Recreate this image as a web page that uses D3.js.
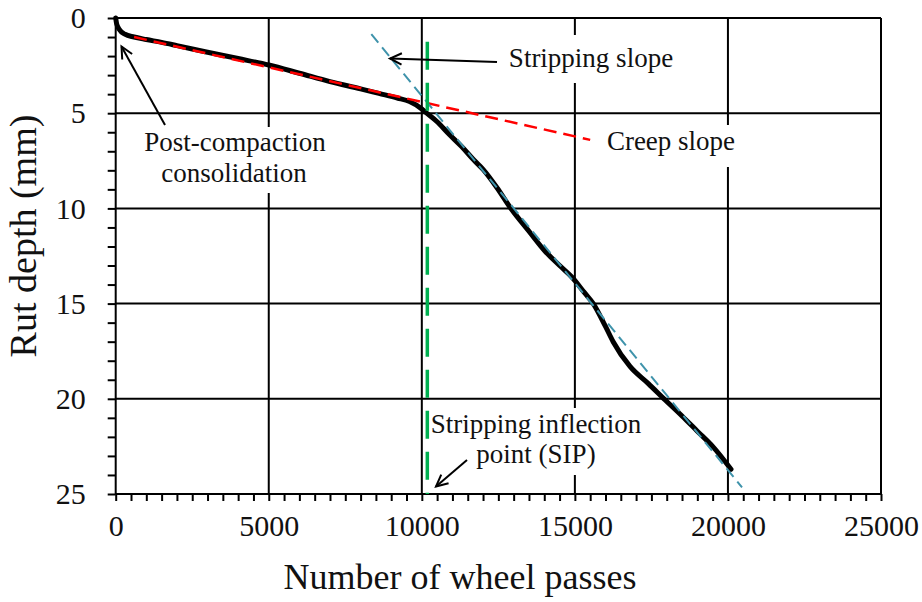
<!DOCTYPE html>
<html>
<head>
<meta charset="utf-8">
<script src="https://cdn.jsdelivr.net/npm/d3@7"></script>
<style>
  body { margin: 0; background: #fff; }
</style>
</head>
<body>
<script>
// rut depth curve
const passes = [0, 30, 120, 300, 600, 1000, 1500, 2000, 3000, 4000, 5000, 6000, 7000, 8000, 8600,
  9200, 9600, 10000, 10100, 10500, 10900, 11300, 11700, 12000, 12450, 12900, 13500, 14000, 14500,
  14900, 15300, 15600, 16000, 16250, 16800, 17400, 17950, 18500, 19000, 19500, 20100]
const rutDepth = [0, 0.3, 0.6, 0.85, 1.0, 1.13, 1.28, 1.45, 1.8, 2.13, 2.47, 2.9, 3.34, 3.72, 3.96,
  4.2, 4.39, 4.78, 4.92, 5.45, 6.12, 6.75, 7.46, 7.95, 8.9, 9.98, 11.2, 12.2, 13.0,
  13.6, 14.4, 15.0, 16.2, 17.0, 18.3, 19.2, 20.06, 20.9, 21.7, 22.5, 23.7]

const creepSlope = [[600, 1.0], [15500, 6.4]]
const strippingSlope = [[8350, 0.85], [20460, 24.65]]
const sipPasses = 10180
const sipLine = [[sipPasses, 1.25], [sipPasses, 25]]

const xTicks = [0, 5000, 10000, 15000, 20000, 25000]
const yTicks = [0, 5, 10, 15, 20, 25]

const W = 922, H = 602
const m = { l: 115.7, r: 922 - 881, t: 18, b: 602 - 494 }
const serif = '"Liberation Serif"'

const svg = d3.select('body').append('svg')
  .attr('width', W).attr('height', H)

const x = d3.scaleLinear().domain([0, 25000]).range([m.l, W - m.r])
const y = d3.scaleLinear().domain([0, 25]).range([m.t, H - m.b])

// grid
const grid = svg.append('g').attr('stroke', '#000').attr('stroke-width', 2)
grid.selectAll('.gx').data(xTicks).join('line')
  .attr('x1', d => x(d)).attr('x2', d => x(d))
  .attr('y1', y(0)).attr('y2', y(25))
grid.selectAll('.gy').data(yTicks).join('line')
  .attr('y1', d => y(d)).attr('y2', d => y(d))
  .attr('x1', x(0)).attr('x2', x(25000))

// minor ticks
svg.append('g').attr('transform', `translate(0,${y(25)})`)
  .call(d3.axisBottom(x).tickValues(d3.range(0, 25001, 500)).tickSize(7).tickFormat(''))
  .call(g => g.selectAll('line').attr('stroke', '#000').attr('stroke-width', 2))
  .call(g => g.select('.domain').remove())
svg.append('g').attr('transform', `translate(${x(0)},0)`)
  .call(d3.axisLeft(y).tickValues(d3.range(0, 26, 1)).tickSize(8).tickFormat(''))
  .call(g => g.selectAll('line').attr('stroke', '#000').attr('stroke-width', 2))
  .call(g => g.select('.domain').remove())

// tick labels
svg.append('g').attr('transform', `translate(0,${y(25)})`)
  .call(d3.axisBottom(x).tickValues(xTicks).tickSize(0).tickPadding(21).tickFormat(d3.format('d')))
  .call(g => g.select('.domain').remove())
  .call(g => g.selectAll('text').style('font-family', serif).style('font-size', '30px').attr('fill', '#111'))
svg.append('g').attr('transform', `translate(${x(0)},0)`)
  .call(d3.axisLeft(y).tickValues(yTicks).tickSize(0).tickPadding(30))
  .call(g => g.select('.domain').remove())
  .call(g => g.selectAll('text').style('font-family', serif).style('font-size', '30px').attr('fill', '#111'))

// white boxes behind annotations (they cut the grid)
const boxes = [[145, 127, 180, 66], [505, 35, 172, 48], [603, 125, 137, 42], [429, 408, 216, 67]]
svg.selectAll('.box').data(boxes).join('rect')
  .attr('x', d => d[0]).attr('y', d => d[1]).attr('width', d => d[2]).attr('height', d => d[3])
  .attr('fill', '#fff')

const line = d3.line().x(d => x(d[0])).y(d => y(d[1]))

svg.append('path')
  .datum(d3.zip(passes, rutDepth))
  .attr('d', line.curve(d3.curveMonotoneX))
  .attr('fill', 'none').attr('stroke', '#000').attr('stroke-width', 5)
  .attr('stroke-linecap', 'round').attr('stroke-linejoin', 'round')

line.curve(d3.curveLinear)
svg.append('path').datum(creepSlope).attr('d', line)
  .attr('stroke', '#ff0000').attr('stroke-width', 2.5).attr('stroke-dasharray', '13,7')
svg.append('path').datum(strippingSlope).attr('d', line)
  .attr('stroke', '#3f93ab').attr('stroke-width', 2).attr('stroke-dasharray', '11,6')
svg.append('path').datum(sipLine).attr('d', line)
  .attr('stroke', '#00b050').attr('stroke-width', 3.5).attr('stroke-dasharray', '28,13')

// annotations
const notes = [
  ['Post-compaction', 235, 151],
  ['consolidation', 234, 182],
  ['Stripping slope', 591, 67],
  ['Creep slope', 671, 150],
  ['Stripping inflection', 536, 433],
  ['point (SIP)', 536, 463]
]
svg.selectAll('.note').data(notes).join('text')
  .attr('x', d => d[1]).attr('y', d => d[2])
  .attr('text-anchor', 'middle').attr('fill', '#111')
  .style('font-family', serif).style('font-size', '27px')
  .text(d => d[0])

function arrow(x1, y1, x2, y2) {
  const a = Math.atan2(y2 - y1, x2 - x1), L = 13, s = 0.45
  const g = svg.append('g').attr('stroke', '#000').attr('stroke-width', 2).attr('fill', 'none')
  g.append('line').attr('x1', x1).attr('y1', y1).attr('x2', x2).attr('y2', y2)
  g.append('path').attr('d',
    `M${x2 - L * Math.cos(a - s)},${y2 - L * Math.sin(a - s)}L${x2},${y2}L${x2 - L * Math.cos(a + s)},${y2 - L * Math.sin(a + s)}`)
}
arrow(165, 125, 121.5, 46.5)
arrow(497, 62, 390, 58.5)
arrow(467, 460, 436, 486.5)

// axis titles
svg.append('text')
  .attr('x', 460).attr('y', 589)
  .attr('text-anchor', 'middle').attr('fill', '#111')
  .style('font-family', serif).style('font-size', '36px')
  .text('Number of wheel passes')
svg.append('text')
  .attr('transform', 'translate(36,236) rotate(-90)')
  .attr('text-anchor', 'middle').attr('fill', '#111')
  .style('font-family', serif).style('font-size', '38px')
  .text('Rut depth (mm)')
</script>
</body>
</html>
